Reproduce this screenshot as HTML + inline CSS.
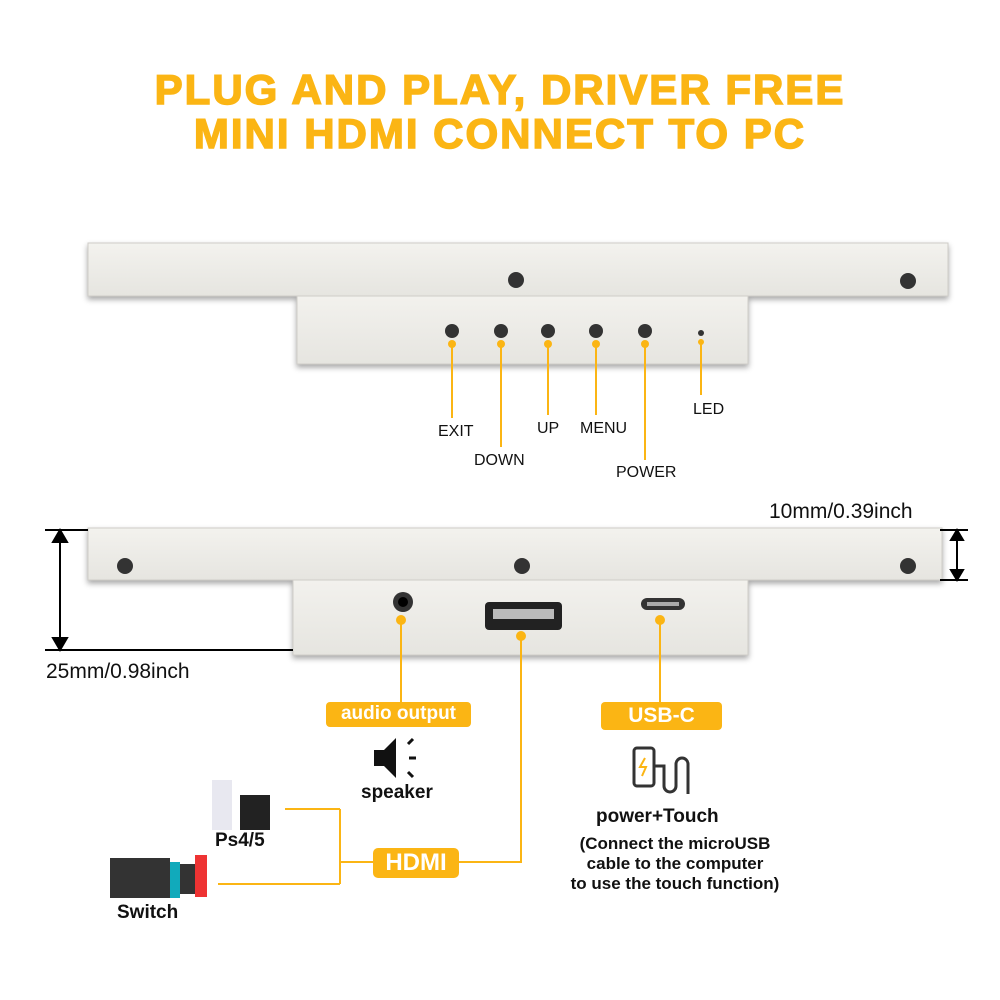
<!DOCTYPE html><html><head><style>
body{margin:0;width:1000px;height:1000px;background:#fff;position:relative;overflow:hidden;font-family:"Liberation Sans",sans-serif}
.t{position:absolute;left:0;width:1000px;text-align:center;color:#fbb514;font-weight:900;font-size:42px;letter-spacing:2px;-webkit-text-stroke:1.5px #fbb514}
.l{position:absolute;font-size:16px;color:#111}
.b{font-weight:bold}
</style></head><body>
<div class="t" style="top:66px">PLUG AND PLAY, DRIVER FREE</div>
<div class="t" style="top:110px">MINI HDMI CONNECT TO PC</div>
<svg width="1000" height="1000" style="position:absolute;left:0;top:0">
<defs><linearGradient id="g" x1="0" y1="0" x2="0" y2="1"><stop offset="0" stop-color="#f3f2ee"/><stop offset="1" stop-color="#e6e5e0"/></linearGradient>
<filter id="s"><feDropShadow dx="0" dy="3" stdDeviation="3" flood-opacity="0.35"/></filter></defs>
<g fill="url(#g)" stroke="#cfcdc8" filter="url(#s)">
<rect x="297" y="292" width="451" height="72"/>
<rect x="88" y="243" width="860" height="53"/>
<rect x="293" y="576" width="455" height="79"/>
<rect x="88" y="528" width="854" height="52"/>
</g>
<g fill="#333"><circle cx="516" cy="280" r="8"/><circle cx="908" cy="281" r="8"/><circle cx="125" cy="566" r="8"/><circle cx="522" cy="566" r="8"/><circle cx="908" cy="566" r="8"/>
<circle cx="452" cy="331" r="7"/><circle cx="501" cy="331" r="7"/><circle cx="548" cy="331" r="7"/><circle cx="596" cy="331" r="7"/><circle cx="645" cy="331" r="7"/><circle cx="701" cy="333" r="3"/>
<circle cx="403" cy="602" r="10"/><circle cx="403" cy="602" r="5" fill="#000"/></g>
<rect x="485" y="602" width="77" height="28" rx="4" fill="#222"/><rect x="493" y="609" width="61" height="10" fill="#bbb"/>
<rect x="641" y="598" width="44" height="12" rx="6" fill="#333"/><rect x="647" y="602" width="32" height="4" fill="#aaa"/>
<g stroke="#fbb514" stroke-width="2" fill="none">
<path d="M452 344V418M501 344V447M548 344V415M596 344V415M645 344V460M701 342V395"/>
<path d="M401 620V702M660 620V702M521 636V862H459M373 862H340M340 809V884M285 809H340M218 884H340"/>
</g>
<g fill="#fbb514"><circle cx="452" cy="344" r="4"/><circle cx="501" cy="344" r="4"/><circle cx="548" cy="344" r="4"/><circle cx="596" cy="344" r="4"/><circle cx="645" cy="344" r="4"/><circle cx="701" cy="342" r="3"/>
<circle cx="401" cy="620" r="5"/><circle cx="521" cy="636" r="5"/><circle cx="660" cy="620" r="5"/>
<rect x="326" y="702" width="145" height="25" rx="4"/><rect x="601" y="702" width="121" height="28" rx="4"/><rect x="373" y="848" width="86" height="30" rx="5"/></g>
<g stroke="#000" stroke-width="2" fill="#000">
<path d="M60 535V645M45 530H88M45 650H293" fill="none"/>
<path d="M60 530l-7 12h14zM60 650l-7-12h14z"/>
<path d="M957 535V575M940 530H968M940 580H968" fill="none"/>
<path d="M957 530l-6 10h12zM957 580l-6-10h12z"/>
</g>
<path d="M374 750h10l12-12v40l-12-12h-10z" fill="#111"/>
<g stroke="#111" stroke-width="3"><path d="M408 744l5-5M409 758h7M408 772l5 5"/></g>
<g stroke="#333" stroke-width="3" fill="none"><rect x="634" y="748" width="20" height="38" rx="3"/><path d="M654 766h10v20a6 6 0 0 0 12 0v-22a6 6 0 0 1 12 0v30"/></g>
<path d="M645 758l-5 9h6l-4 9" stroke="#fbb514" stroke-width="2" fill="none"/>
<rect x="212" y="780" width="20" height="50" fill="#e8e8f0"/><rect x="240" y="795" width="30" height="35" fill="#222"/>
<rect x="110" y="858" width="60" height="40" fill="#333"/><rect x="170" y="862" width="10" height="36" fill="#1ab"/><rect x="195" y="855" width="12" height="42" fill="#e33"/><rect x="180" y="864" width="15" height="30" fill="#333"/>
</svg>
<div class="l" style="left:438px;top:423px">EXIT</div>
<div class="l" style="left:474px;top:452px">DOWN</div>
<div class="l" style="left:537px;top:420px">UP</div>
<div class="l" style="left:580px;top:420px">MENU</div>
<div class="l" style="left:616px;top:464px">POWER</div>
<div class="l" style="left:693px;top:401px">LED</div>
<div class="l" style="left:769px;top:500px;font-size:21px">10mm/0.39inch</div>
<div class="l" style="left:46px;top:660px;font-size:21px">25mm/0.98inch</div>
<div class="l b" style="left:326px;top:703px;width:145px;text-align:center;color:#fff;font-size:19px">audio output</div>
<div class="l b" style="left:601px;top:704px;width:121px;text-align:center;color:#fff;font-size:21px">USB-C</div>
<div class="l b" style="left:373px;top:849px;width:86px;text-align:center;color:#fff;font-size:24px">HDMI</div>
<div class="l b" style="left:361px;top:782px;font-size:19px">speaker</div>
<div class="l b" style="left:596px;top:806px;font-size:19px">power+Touch</div>
<div class="l b" style="left:540px;top:834px;width:270px;text-align:center;font-size:17px;line-height:20px">(Connect the microUSB<br>cable to the computer<br>to use the touch function)</div>
<div class="l b" style="left:215px;top:830px;font-size:19px">Ps4/5</div>
<div class="l b" style="left:117px;top:902px;font-size:19px">Switch</div>
</body></html>
